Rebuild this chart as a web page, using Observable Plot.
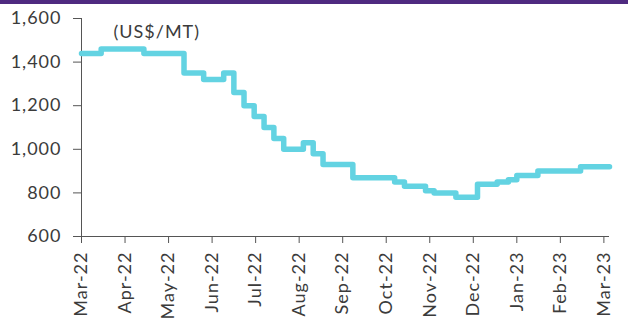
<!DOCTYPE html>
<html><head><meta charset="utf-8">
<script src="https://cdn.jsdelivr.net/npm/d3@7"></script>
<script src="https://cdn.jsdelivr.net/npm/@observablehq/plot@0.6"></script>
<style>
html,body{margin:0;padding:0;background:#fff;overflow:hidden}
#wrap{position:relative;width:628px;height:320px}
#bar{position:absolute;left:0;top:0;width:628px;height:4px;background:#4F2A80}
</style></head><body>
<div id="wrap"><div id="bar"></div></div>
<script>
const stepDates = ["2022-03-01","2022-03-15","2022-04-14","2022-05-12","2022-05-26","2022-06-09","2022-06-16","2022-06-23","2022-06-30","2022-07-07","2022-07-14","2022-07-21","2022-08-04","2022-08-11","2022-08-18","2022-09-08","2022-10-07","2022-10-14","2022-10-29","2022-11-04","2022-11-19","2022-12-04","2022-12-18","2022-12-26","2023-01-01","2023-01-16","2023-02-14","2023-03-05"];
const prices = [1440,1460,1440,1350,1320,1350,1260,1200,1150,1100,1050,1000,1030,980,930,870,850,830,810,800,780,840,850,860,880,900,920,920];
const monthLabels = ["Mar-22","Apr-22","May-22","Jun-22","Jul-22","Aug-22","Sep-22","Oct-22","Nov-22","Dec-22","Jan-23","Feb-23","Mar-23"];
const yTicks = [600,800,1000,1200,1400,1600];
const unitLabel = ["(US$/MT)"];

function monthIndex(s){
  const [y,m,d] = s.split("-").map(Number);
  const dim = new Date(y, m, 0).getDate();
  return (y-2022)*12 + (m-3) + (d-1)/dim;
}
const data = stepDates.map((d,i)=>({x:monthIndex(d), price:prices[i]}));
const xEnd = monthIndex(stepDates[stepDates.length-1]);

const chart = Plot.plot({
  width:628, height:320,
  marginLeft:81, marginRight:19, marginTop:18, marginBottom:84,
  style:{fontFamily:"Lato", fontSize:"18px", color:"#3b3b3b", background:"transparent", letterSpacing:"1px"},
  x:{domain:[0, xEnd]},
  y:{domain:[600,1600]},
  marks:[
    Plot.axisY({ticks:yTicks, tickFormat:d3.format(","), tickSize:8, tickPadding:12, stroke:"#555", label:null}),
    Plot.axisX({ticks:d3.range(13), tickFormat:i=>monthLabels[i], tickRotate:-90, tickSize:7, tickPadding:8, stroke:"#555", label:null}),
    Plot.ruleX([0], {stroke:"#555"}),
    Plot.ruleY([600], {stroke:"#555"}),
    Plot.line(data, {x:"x", y:"price", curve:"step-after", stroke:"#63D3E2", strokeWidth:5.5, strokeLinejoin:"round", strokeLinecap:"round"}),
    Plot.text(unitLabel, {text:d=>d, frameAnchor:"top-left", dx:32, dy:13.5, textAnchor:"start", lineAnchor:"middle", fontSize:18})
  ]
});
document.getElementById("wrap").prepend(chart);
</script>
</body></html>
